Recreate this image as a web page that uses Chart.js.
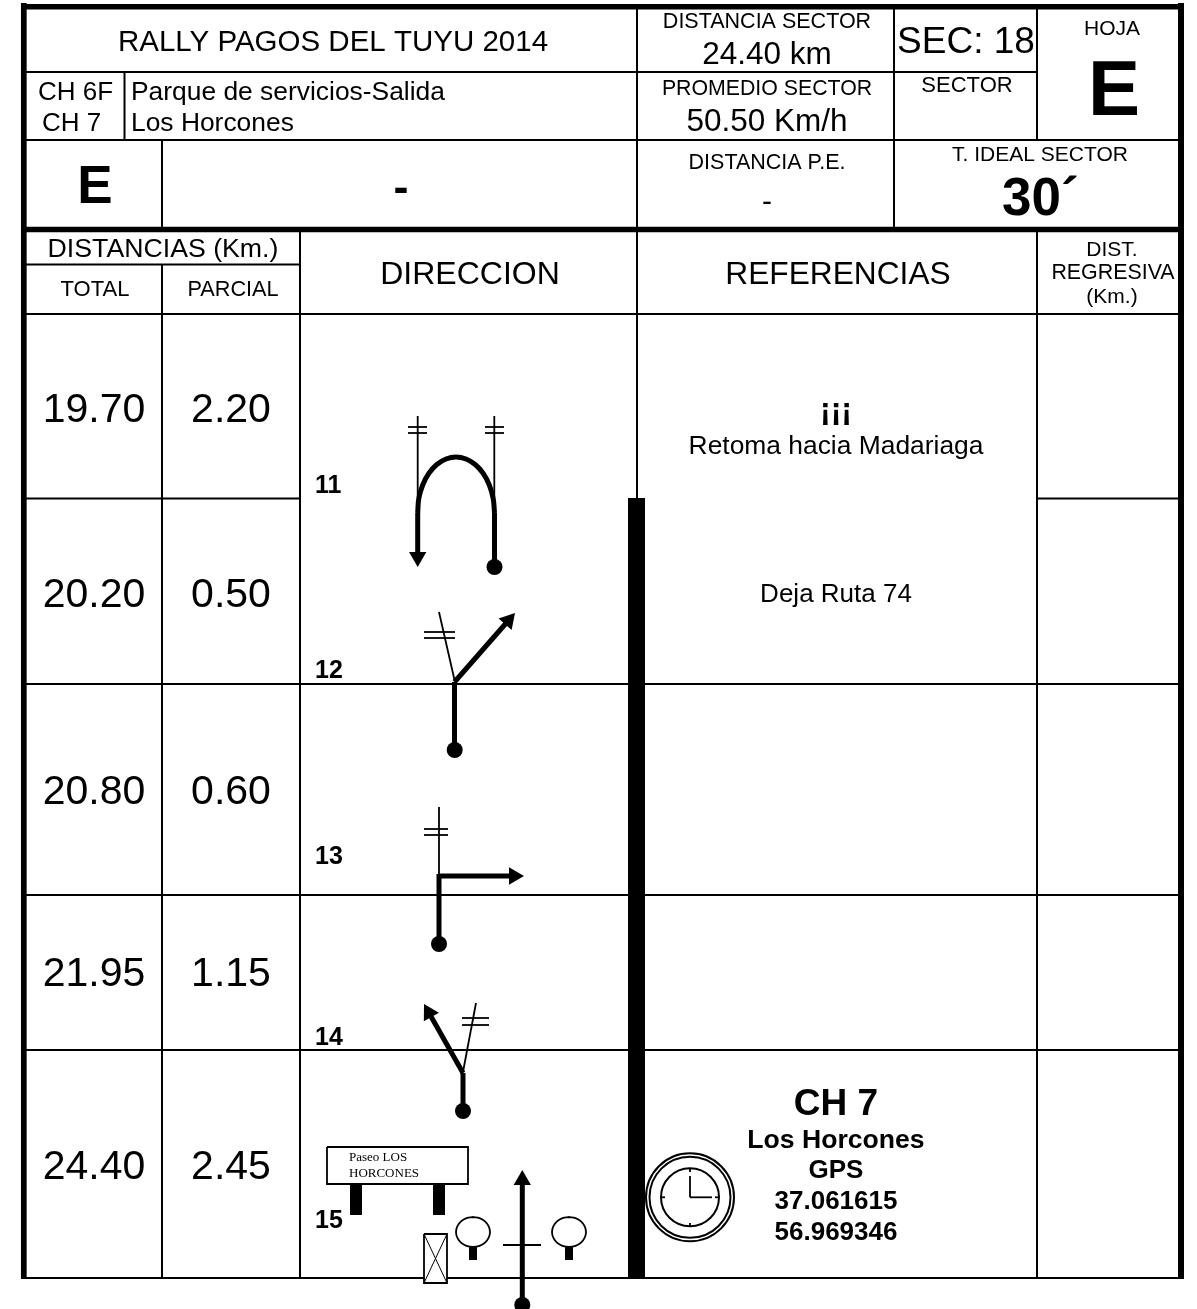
<!DOCTYPE html>
<html>
<head>
<meta charset="utf-8">
<title>Rally Pagos del Tuyu 2014</title>
<script src="https://cdn.jsdelivr.net/npm/chart.js@4"></script>
<style>
  html, body { margin: 0; padding: 0; background: #fff; }
  canvas { display: block; }
</style>
</head>
<body>
<canvas id="myChart" width="1197" height="1309"></canvas>
<script>
// roadbook values
const totals = [19.70, 20.20, 20.80, 21.95, 24.40];
const partials = [2.20, 0.50, 0.60, 1.15, 2.45];
const stepNumbers = [11, 12, 13, 14, 15];

// where each row's text sits
const rowBaselines = [422, 607, 804, 986, 1179];
const stepBaselines = [493, 678, 864, 1045, 1228];

const INK = "#000";
const FONT = '"Liberation Sans", Arial, sans-serif';
const SERIF = '"Liberation Serif", "Times New Roman", serif';

// [x1, y1, x2, y2, width]
const gridLines = [
  [21, 6.8, 1184, 6.8, 5.5],
  [21, 229.5, 1184, 229.5, 5.5],
  [23.8, 3, 23.8, 1279, 5.7],
  [1181, 3, 1181, 1279, 6],
  [22, 72, 1037, 72, 2],
  [22, 140, 1181, 140, 2],
  [22, 264.5, 300, 264.5, 2],
  [22, 314, 1181, 314, 2],
  [22, 498.5, 300, 498.5, 2],
  [1037, 498.5, 1181, 498.5, 2],
  [22, 684, 1181, 684, 2],
  [22, 895, 1181, 895, 2],
  [22, 1050, 1181, 1050, 2],
  [21, 1278, 1184, 1278, 2],
  [124.5, 72, 124.5, 140, 2],
  [162, 140, 162, 229, 2],
  [162, 264, 162, 1278, 2],
  [300, 229, 300, 1278, 2],
  [637, 9, 637, 498, 2],
  [894, 9, 894, 229, 2],
  [1037, 9, 1037, 140, 2],
  [1037, 229, 1037, 1278, 2],
  [636.5, 498, 636.5, 1278, 17],
];

// thin roads and the crossing marks on them
const thinLines = [
  [417.7, 416, 417.7, 497], [408, 427, 427, 427], [408, 433, 427, 433],
  [494.3, 416, 494.3, 497], [485, 427, 504, 427], [485, 433, 504, 433],
  [454.5, 680, 439, 612], [424, 632, 455, 632], [424, 638, 455, 638],
  [439, 807, 439, 876], [424, 829, 448, 829], [424, 835, 448, 835],
  [463, 1072, 476, 1003], [462, 1018, 489, 1018], [462, 1025, 489, 1025],
  [503, 1245, 541, 1245],
];

const uTurn = [
  [417.7, 513], [418.8, 498.5], [422.7, 485], [428.8, 473.4], [436.8, 464.5], [446, 459], [456, 457],
  [466, 459], [475.2, 464.5], [483.2, 473.4], [489.3, 485], [493.2, 498.5], [494.5, 513],
];

// [from x, from y, tip x, tip y]
const arrows = [
  [417.7, 513, 417.7, 567],
  [454.5, 682, 515, 613],
  [439, 876, 524, 876],
  [463, 1073, 424, 1004],
  [522.3, 1305, 522.3, 1170],
];

const stems = [
  [494.5, 513, 494.5, 567],
  [454.5, 682, 454.5, 750],
  [439, 874, 439, 944],
  [463, 1073, 463, 1111],
];

const dots = [[494.5, 567], [454.7, 750], [439, 944], [463, 1111], [522.3, 1305]];

const signBoard = [[327, 1147], [468, 1147], [468, 1184], [327, 1184], [327, 1147]];
const signPosts = [[356, 1184, 356, 1215], [439, 1184, 439, 1215]];
const treeStems = [[473, 1246, 473, 1260], [569, 1246, 569, 1260]];
const treeCenters = [[473, 1232], [569, 1232]];
const treeOutline = [
  [0, -15], [6.5, -13.9], [12, -10.6], [15.7, -5.7], [17, 0], [15.7, 5.7], [12, 10.6], [6.5, 13.9],
  [0, 15], [-6.5, 13.9], [-12, 10.6], [-15.7, 5.7], [-17, 0], [-15.7, -5.7], [-12, -10.6], [-6.5, -13.9], [0, -15],
];
const crossBox = [[424, 1234], [447, 1234], [447, 1283], [424, 1283], [424, 1234]];
const crossDiagonals = [[424, 1234, 447, 1283], [447, 1234, 424, 1283]];

const clockCenter = [690, 1197.3];
const clockRings = [44, 40.5, 29];
const clockHands = [
  [690, 1197.3, 690, 1176], [690, 1197.3, 712, 1197.3],
  [690, 1168, 690, 1172], [690, 1223, 690, 1227],
  [661, 1197.3, 665, 1197.3], [715, 1197.3, 719, 1197.3],
];

// [text, x, baseline, size, bold, align]
const headerTexts = [
  ["RALLY PAGOS DEL TUYU 2014", 333, 51, 29.5, false, "center"],
  ["CH 6F", 38, 100, 26, false, "left"],
  ["CH 7", 42, 131, 26, false, "left"],
  ["Parque de servicios-Salida", 131, 100, 26.4, false, "left"],
  ["Los Horcones", 131, 131, 26.4, false, "left"],
  ["E", 95, 203, 53, true, "center"],
  ["-", 401, 202, 45, true, "center"],
  ["DISTANCIA SECTOR", 767, 28, 21.5, false, "center"],
  ["24.40 km", 767, 64, 31.5, false, "center"],
  ["SEC: 18", 966, 53, 37, false, "center"],
  ["SECTOR", 967, 92, 22, false, "center"],
  ["HOJA", 1112, 35, 21, false, "center"],
  ["E", 1114, 115, 78, true, "center"],
  ["PROMEDIO SECTOR", 767, 95, 21.3, false, "center"],
  ["50.50 Km/h", 767, 131, 31.5, false, "center"],
  ["DISTANCIA P.E.", 767, 169, 21.5, false, "center"],
  ["-", 767, 211, 30, false, "center"],
  ["T. IDEAL SECTOR", 1040, 161, 21, false, "center"],
  ["30´", 1002, 215, 53, true, "left"],
  ["DISTANCIAS (Km.)", 163, 257, 26.7, false, "center"],
  ["TOTAL", 95, 296, 22, false, "center"],
  ["PARCIAL", 233, 296, 21.7, false, "center"],
  ["DIRECCION", 470, 284, 32, false, "center"],
  ["REFERENCIAS", 838, 284, 31.7, false, "center"],
  ["DIST.", 1112, 256, 21, false, "center"],
  ["REGRESIVA", 1113, 279, 21.4, false, "center"],
  ["(Km.)", 1112, 303, 21, false, "center"],
];

const referenceTexts = [
  ["¡¡¡", 836, 420, 32, true, "center"],
  ["Retoma hacia Madariaga", 836, 454, 26.4, false, "center"],
  ["Deja Ruta 74", 836, 602, 26, false, "center"],
  ["CH 7", 836, 1115, 37, true, "center"],
  ["Los Horcones", 836, 1148, 26.6, true, "center"],
  ["GPS", 836, 1178, 26, true, "center"],
  ["37.061615", 836, 1209, 26, true, "center"],
  ["56.969346", 836, 1240, 26, true, "center"],
];

const toPoints = (list) => list.map(([x, y]) => ({ x, y }));
const segment = ([x1, y1, x2, y2]) => [{ x: x1, y: y1 }, { x: x2, y: y2 }];

let datasets = [];

function addLine(data, width, extra) {
  datasets.push({
    data,
    showLine: true,
    borderColor: INK,
    borderWidth: width,
    borderCapStyle: "butt",
    borderJoinStyle: "miter",
    pointRadius: 0,
    pointHoverRadius: 0,
    fill: false,
    ...extra,
  });
}

function addMark(x, y, radius, extra) {
  datasets.push({
    data: [{ x, y }],
    showLine: false,
    pointStyle: "circle",
    pointRadius: radius,
    pointHoverRadius: radius,
    pointBackgroundColor: INK,
    pointBorderColor: INK,
    pointBorderWidth: 0,
    ...extra,
  });
}

gridLines.forEach((l) => addLine(segment(l), l[4]));

thinLines.forEach((l) => addLine(segment(l), 1.8));
addLine(toPoints(uTurn), 5, { tension: 0.4 });
stems.forEach((l) => addLine(segment(l), 5));

const HEAD_RADIUS = 10;
arrows.forEach(([x1, y1, x2, y2]) => {
  const dx = x2 - x1;
  const dy = y2 - y1;
  const len = Math.hypot(dx, dy);
  const cx = x2 - (dx / len) * HEAD_RADIUS;
  const cy = y2 - (dy / len) * HEAD_RADIUS;
  addLine(segment([x1, y1, cx, cy]), 5);
  addMark(cx, cy, HEAD_RADIUS, {
    pointStyle: "triangle",
    pointRotation: (Math.atan2(dx, -dy) * 180) / Math.PI,
  });
});

dots.forEach(([x, y]) => addMark(x, y, 8));

addLine(toPoints(signBoard), 1.8);
signPosts.forEach((l) => addLine(segment(l), 12));
treeStems.forEach((l) => addLine(segment(l), 8));
treeCenters.forEach(([cx, cy]) =>
  addLine(treeOutline.map(([dx, dy]) => ({ x: cx + dx, y: cy + dy })), 1.8, { tension: 0.4 })
);
addLine(toPoints(crossBox), 1.8, { fill: "shape", backgroundColor: "#fff" });
crossDiagonals.forEach((l) => addLine(segment(l), 1));

clockRings.forEach((r) =>
  addMark(clockCenter[0], clockCenter[1], r, {
    pointBackgroundColor: "transparent",
    pointBorderWidth: 2,
  })
);
clockHands.forEach((l) => addLine(segment(l), 1.8));

// first dataset is drawn last by default, so flip it
datasets.forEach((d, i) => { d.order = datasets.length - i; });

const textPlugin = {
  id: "roadbookText",
  afterDatasetsDraw(chart) {
    const { ctx, scales } = chart;
    const put = (text, x, y, size, bold, align, family) => {
      ctx.font = (bold ? "bold " : "") + size + "px " + (family || FONT);
      ctx.textAlign = align;
      ctx.textBaseline = "alphabetic";
      ctx.fillStyle = INK;
      ctx.fillText(text, scales.x.getPixelForValue(x), scales.y.getPixelForValue(y));
    };
    ctx.save();
    headerTexts.forEach((t) => put(...t));
    referenceTexts.forEach((t) => put(...t));
    totals.forEach((v, i) => put(v.toFixed(2), 94, rowBaselines[i], 41, false, "center"));
    partials.forEach((v, i) => put(v.toFixed(2), 231, rowBaselines[i], 41, false, "center"));
    stepNumbers.forEach((n, i) => put(String(n), 315, stepBaselines[i], 25, true, "left"));
    put("Paseo LOS", 349, 1161, 13, false, "left", SERIF);
    put("HORCONES", 349, 1177, 13, false, "left", SERIF);
    ctx.restore();
  },
};

new Chart(document.getElementById("myChart").getContext("2d"), {
  type: "scatter",
  data: { datasets },
  plugins: [textPlugin],
  options: {
    responsive: false,
    animation: false,
    layout: { padding: 0, autoPadding: false },
    plugins: { legend: { display: false }, tooltip: { enabled: false } },
    events: [],
    scales: {
      x: { type: "linear", min: 0, max: 1197, display: false },
      y: { type: "linear", min: 0, max: 1309, reverse: true, display: false },
    },
  },
});
</script>
</body>
</html>
